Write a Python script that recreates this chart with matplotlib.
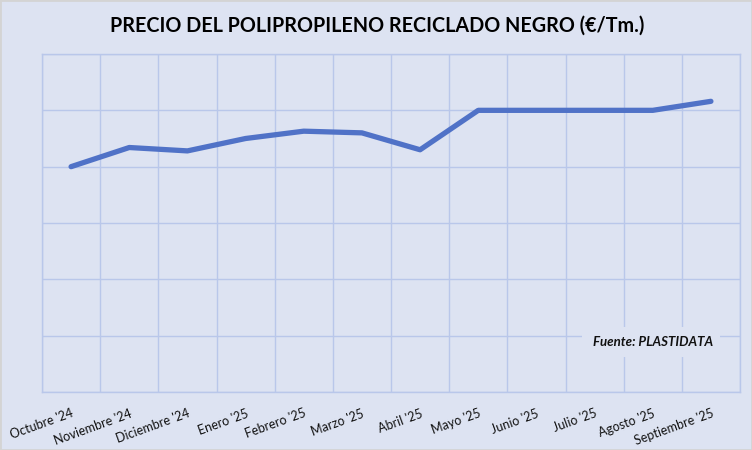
import matplotlib.pyplot as plt
from matplotlib.patches import Rectangle

months = ["Octubre '24", "Noviembre '24", "Diciembre '24", "Enero '25", "Febrero '25",
          "Marzo '25", "Abril '25", "Mayo '25", "Junio '25", "Julio '25",
          "Agosto '25", "Septiembre '25"]
precio = [1100, 1134, 1128, 1150, 1163, 1160, 1130, 1200, 1200, 1200, 1200, 1216]

bg = '#DDE3F2'
grid_c = '#B9C7EA'
line_c = '#5072C7'

plt.rcParams['font.family'] = ['Lato', 'DejaVu Sans']

fig = plt.figure(figsize=(7.52, 4.5), dpi=100, facecolor=bg)
fig.patches.append(Rectangle((0, 0), 1, 1, transform=fig.transFigure,
                             fill=False, edgecolor='#D4D4D4', linewidth=2))
ax = fig.add_axes([42 / 752, 1 - 392 / 450, 698 / 752, 338 / 450])
ax.set_facecolor(bg)

x = list(range(len(months)))
ax.plot(x, precio, color=line_c, linewidth=3.8, solid_capstyle='round', zorder=3)

ax.set_xlim(-0.5, len(months) - 0.5)
ax.set_ylim(700, 1300)
ax.set_yticks(range(700, 1301, 100))
ax.set_yticklabels([])
ax.set_xticks([i - 0.5 for i in range(len(months) + 1)], minor=True)
ax.set_xticks(x)
ax.set_xticklabels(months, rotation=20, ha='right', va='top',
                   rotation_mode='anchor', fontsize=9, color='#111111')
ax.tick_params(axis='both', which='both', length=0, pad=11)
ax.grid(True, axis='y', color=grid_c, linewidth=1)
ax.grid(True, axis='x', which='minor', color=grid_c, linewidth=1)
for s in ax.spines.values():
    s.set_color(grid_c)
    s.set_linewidth(1)

# caja de la fuente (tapa la rejilla)
ax.add_patch(Rectangle((0.774, 0.1036), 0.197, 0.0887, transform=ax.transAxes,
                       facecolor=bg, edgecolor='none', zorder=4))
ax.text(0.9613, 0.148, 'Fuente: PLASTIDATA', transform=ax.transAxes,
        ha='right', va='center', fontsize=9.5, fontweight='bold', style='italic',
        color='#111111', zorder=5)

fig.text(0.502, 0.942, 'PRECIO DEL POLIPROPILENO RECICLADO NEGRO (€/Tm.)',
         ha='center', va='center', fontsize=14.2, fontweight='bold', color='black')

fig.savefig('out.png', dpi=100, facecolor=bg)
